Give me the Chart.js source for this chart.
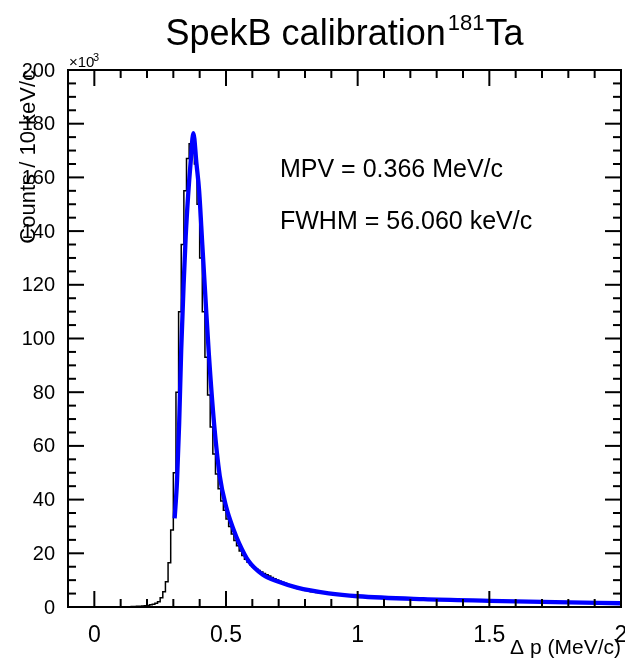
<!DOCTYPE html>
<html>
<head>
<meta charset="utf-8">
<title>SpekB calibration 181Ta</title>
<script src="https://cdn.jsdelivr.net/npm/chart.js@4.4.1/dist/chart.umd.min.js"></script>
<style>
    html, body { margin: 0; padding: 0; background: #fff; }
    #wrap { width: 625px; height: 658px; }
</style>
</head>
<body>
<div id="wrap"><canvas id="chart" width="625" height="658"></canvas></div>
<script>
/* SpekB calibration plot: momentum-loss histogram with its fitted curve,
   drawn ROOT-style (inward ticks on all four sides of the frame). */
(function () {
    "use strict";
    if (typeof Chart === "undefined") {
        return;
    }

    // Histogram: 10 keV/c bins starting at -0.1 MeV/c, counts in 10^3.
    var binStart = -0.1;
    var binWidth = 0.01;
    var counts = [
        0, 0, 0, 0, 0, 0, 0, 0, 0, 0,
        0, 0, 0, 0, 0, 0, 0, 0, 0, 0,
        0, 0, 0.05, 0.05, 0.1, 0.15, 0.2, 0.25, 0.3, 0.4,
        0.5, 0.6, 0.8, 1.0, 1.4, 2.0, 3.4, 5.7, 9.4, 16.5,
        28.7, 50, 80, 110, 135, 155, 167, 172.5, 172, 165,
        150, 130, 110, 93, 79, 67, 57, 49.5, 44, 39.5,
        36, 32.8, 30, 27.2, 24.8, 22.8, 20.9, 19.2, 17.8, 16.7,
        15.7, 14.9, 14.2, 13.6, 13.0, 12.5, 12.0, 11.5, 11.0, 10.5,
        10.1, 9.6, 9.2, 8.8, 8.4, 8.0, 7.6, 7.2, 6.9, 6.6,
        6.3, 6.1, 5.9, 5.7, 5.6, 5.4, 5.3, 5.2, 5.1, 5.0,
        4.9, 4.8, 4.7, 4.6, 4.5, 4.4, 4.3, 4.2, 4.15, 4.1,
        4.0, 3.95, 3.9, 3.83, 3.8, 3.76, 3.7, 3.64, 3.6, 3.56,
        3.5, 3.44, 3.41, 3.36, 3.33, 3.27, 3.24, 3.2, 3.17, 3.12,
        3.08, 3.05, 3.0, 2.98, 2.93, 2.91, 2.89, 2.84, 2.82, 2.8,
        2.76, 2.72, 2.7, 2.68, 2.64, 2.6, 2.58, 2.57, 2.53, 2.52,
        2.5, 2.47, 2.46, 2.44, 2.41, 2.4, 2.38, 2.35, 2.34, 2.32,
        2.3, 2.27, 2.26, 2.24, 2.23, 2.2, 2.18, 2.17, 2.14, 2.12,
        2.1, 2.09, 2.06, 2.04, 2.03, 2.0, 1.98, 1.97, 1.94, 1.92,
        1.9, 1.89, 1.86, 1.85, 1.82, 1.8, 1.79, 1.76, 1.75, 1.74,
        1.72, 1.7, 1.69, 1.67, 1.66, 1.64, 1.62, 1.61, 1.6, 1.58,
        1.57, 1.56, 1.54, 1.53, 1.52, 1.5, 1.49, 1.48, 1.47, 1.45
    ];

    // Fitted curve (MeV/c, 10^3 counts).
    var fitX = [0.305, 0.314, 0.322, 0.330, 0.339, 0.347, 0.356, 0.366, 0.376,
        0.388, 0.398, 0.410, 0.422, 0.435, 0.455, 0.476, 0.500, 0.530, 0.550,
        0.585, 0.640, 0.700, 0.770, 0.890, 1.000, 1.250, 1.500, 1.750, 2.000];
    var fitY = [33, 47, 68, 96, 120, 138, 153, 166, 176.5,
        165, 155, 135, 115, 94, 68, 49, 37.5, 28.5, 23.7,
        17.2, 12, 9.4, 7.2, 5.1, 4.0, 2.9, 2.3, 1.8, 1.4];

    // Axes
    var xMin = -0.1, xMax = 2, yMin = 0, yMax = 200;
    var xTicks = [0, 0.5, 1, 1.5, 2];
    var xTickLabels = ["0", "0.5", "1", "1.5", "2"];
    var yTicks = [0, 20, 40, 60, 80, 100, 120, 140, 160, 180, 200];
    var yTickLabels = ["0", "20", "40", "60", "80", "100", "120", "140", "160", "180", "200"];
    var xMinorStep = 0.1, yMinorStep = 5;

    var title = "SpekB calibration";
    var titleSup = "181";
    var titleEnd = "Ta";
    var xTitle = "\u0394 p (MeV/c)";
    var yTitle = "Counts / 10 keV/c";
    var notes = ["MPV = 0.366 MeV/c", "FWHM = 56.060 keV/c"];

    var FONT = "'Liberation Sans', Arial, Helvetica, sans-serif";

    var histPoints = counts.map(function (c, i) {
        return { x: binStart + i * binWidth, y: c };
    });
    histPoints.push({ x: binStart + counts.length * binWidth, y: counts[counts.length - 1] });

    var fitPoints = fitX.map(function (x, i) {
        return { x: x, y: fitY[i] };
    });

    function line(ctx, x1, y1, x2, y2) {
        ctx.beginPath();
        ctx.moveTo(x1, y1);
        ctx.lineTo(x2, y2);
        ctx.stroke();
    }

    var rootFrame = {
        id: "rootFrame",
        afterDraw: function (chart) {
            var ctx = chart.ctx;
            var a = chart.chartArea;
            var sx = chart.scales.x;
            var sy = chart.scales.y;
            var majorLen = 16, minorLen = 8;
            var k, v, px, py;

            ctx.save();
            ctx.strokeStyle = "#000";
            ctx.lineWidth = 2;
            ctx.strokeRect(a.left, a.top, a.right - a.left, a.bottom - a.top);

            // x ticks, bottom and top
            for (k = Math.ceil(xMin / xMinorStep); k <= Math.floor(xMax / xMinorStep); k++) {
                v = k * xMinorStep;
                px = sx.getPixelForValue(v);
                var isMajor = Math.abs(v / 0.5 - Math.round(v / 0.5)) < 1e-6;
                var len = isMajor ? majorLen : minorLen;
                line(ctx, px, a.bottom, px, a.bottom - len);
                line(ctx, px, a.top, px, a.top + len);
            }
            // y ticks, left and right
            for (v = yMin; v <= yMax; v += yMinorStep) {
                py = sy.getPixelForValue(v);
                var lenY = v % 20 === 0 ? majorLen : minorLen;
                line(ctx, a.left, py, a.left + lenY, py);
                line(ctx, a.right, py, a.right - lenY, py);
            }

            ctx.fillStyle = "#000";
            // x tick labels
            ctx.font = "23px " + FONT;
            ctx.textAlign = "center";
            ctx.textBaseline = "alphabetic";
            xTicks.forEach(function (t, i) {
                ctx.fillText(xTickLabels[i], sx.getPixelForValue(t), 642);
            });
            // y tick labels
            ctx.font = "20px " + FONT;
            ctx.textAlign = "right";
            ctx.textBaseline = "middle";
            yTicks.forEach(function (t, i) {
                ctx.fillText(yTickLabels[i], a.left - 13, sy.getPixelForValue(t) + 1);
            });

            // exponent
            ctx.textAlign = "left";
            ctx.textBaseline = "alphabetic";
            ctx.font = "15px " + FONT;
            ctx.fillText("\u00d710", a.left + 1, a.top - 3);
            ctx.font = "11px " + FONT;
            ctx.fillText("3", a.left + 25, a.top - 9);

            // axis titles
            ctx.font = "21px " + FONT;
            ctx.textAlign = "right";
            ctx.fillText(xTitle, a.right, 654);
            ctx.save();
            ctx.translate(35, a.top);
            ctx.rotate(-Math.PI / 2);
            ctx.font = "22px " + FONT;
            ctx.textAlign = "right";
            ctx.fillText(yTitle, 0, 0);
            ctx.restore();

            // fit results
            ctx.font = "25px " + FONT;
            ctx.textAlign = "left";
            ctx.textBaseline = "middle";
            ctx.fillText(notes[0], 280, 170);
            ctx.fillText(notes[1], 280, 222);

            // title with superscript mass number
            ctx.textBaseline = "alphabetic";
            var big = "36px " + FONT, small = "22px " + FONT;
            ctx.font = big;
            var w1 = ctx.measureText(title).width + 2;
            var w3 = ctx.measureText(titleEnd).width;
            ctx.font = small;
            var w2 = ctx.measureText(titleSup).width + 1;
            var x0 = (a.left + a.right) / 2 - (w1 + w2 + w3) / 2;
            ctx.font = big;
            ctx.fillText(title, x0, 45);
            ctx.fillText(titleEnd, x0 + w1 + w2, 45);
            ctx.font = small;
            ctx.fillText(titleSup, x0 + w1, 30);
            ctx.restore();
        }
    };

    new Chart(document.getElementById("chart"), {
        type: "line",
        data: {
            datasets: [
                {
                    data: fitPoints,
                    borderColor: "#0000ff",
                    borderWidth: 4.3,
                    pointRadius: 0,
                    cubicInterpolationMode: "monotone",
                    order: 0
                },
                {
                    data: histPoints,
                    borderColor: "#000000",
                    borderWidth: 1.5,
                    pointRadius: 0,
                    stepped: "after",
                    order: 1
                }
            ]
        },
        options: {
            responsive: false,
            animation: false,
            devicePixelRatio: 1,
            layout: { padding: { left: 68, right: 4, top: 70, bottom: 51 } },
            scales: {
                x: { type: "linear", min: xMin, max: xMax, display: false },
                y: { type: "linear", min: yMin, max: yMax, display: false }
            },
            plugins: { legend: { display: false }, tooltip: { enabled: false } }
        },
        plugins: [rootFrame]
    });
})();
</script>
</body>
</html>
